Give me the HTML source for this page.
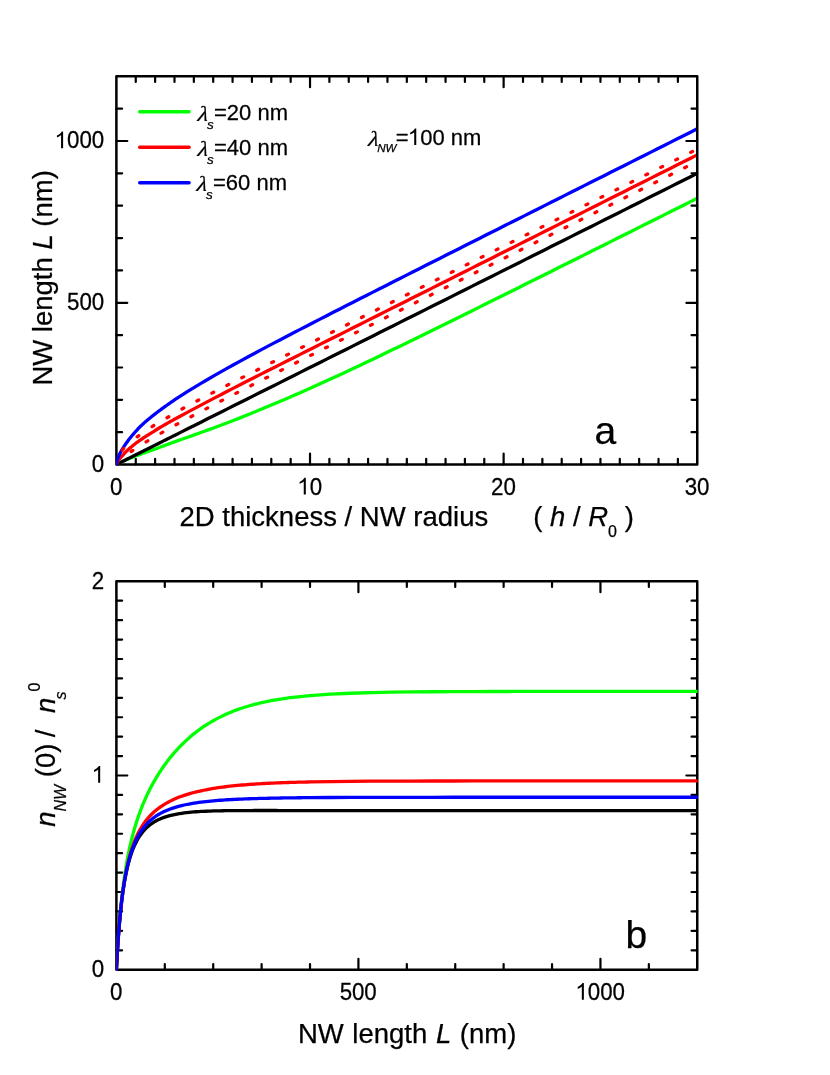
<!DOCTYPE html>
<html><head><meta charset="utf-8"><title>figure</title>
<style>
html,body{margin:0;padding:0;background:#fff;}
svg{display:block;}
text{font-family:"Liberation Sans",sans-serif;fill:#000;stroke:#000;stroke-width:0.25px;stroke-linejoin:round;}
svg{will-change:transform;}
.it{font-style:italic;}
.ser{font-family:"Liberation Serif",serif;font-style:italic;}
.t{font-size:22.3px;}
.l{font-size:27.5px;}
.g{font-size:22px;}
.ab{font-size:39px;}
.c{fill:none;stroke-width:3.3;stroke-linejoin:round;stroke-linecap:round;}
</style></head>
<body>

<svg width="830" height="1075" viewBox="0 0 830 1075">
<rect width="830" height="1075" fill="#fff"/>
<defs><clipPath id="ca"><rect x="116.4" y="74.3" width="579.6" height="391.55"/></clipPath><clipPath id="cb"><rect x="116.4" y="579.3" width="581.25" height="391.7"/></clipPath></defs>
<!-- panel a -->
<rect x="116.4" y="76.3" width="580.85" height="388.25" fill="none" stroke="#000" stroke-linejoin="round" stroke-width="2.5"/>
<path d="M135.76 464.55 v-5.7 M135.76 76.3 v5.7 M155.12 464.55 v-5.7 M155.12 76.3 v5.7 M174.49 464.55 v-5.7 M174.49 76.3 v5.7 M193.85 464.55 v-5.7 M193.85 76.3 v5.7 M213.21 464.55 v-5.7 M213.21 76.3 v5.7 M232.57 464.55 v-5.7 M232.57 76.3 v5.7 M251.93 464.55 v-5.7 M251.93 76.3 v5.7 M271.29 464.55 v-5.7 M271.29 76.3 v5.7 M290.66 464.55 v-5.7 M290.66 76.3 v5.7 M329.38 464.55 v-5.7 M329.38 76.3 v5.7 M348.74 464.55 v-5.7 M348.74 76.3 v5.7 M368.1 464.55 v-5.7 M368.1 76.3 v5.7 M387.46 464.55 v-5.7 M387.46 76.3 v5.7 M406.83 464.55 v-5.7 M406.83 76.3 v5.7 M426.19 464.55 v-5.7 M426.19 76.3 v5.7 M445.55 464.55 v-5.7 M445.55 76.3 v5.7 M464.91 464.55 v-5.7 M464.91 76.3 v5.7 M484.27 464.55 v-5.7 M484.27 76.3 v5.7 M523 464.55 v-5.7 M523 76.3 v5.7 M542.36 464.55 v-5.7 M542.36 76.3 v5.7 M561.72 464.55 v-5.7 M561.72 76.3 v5.7 M581.08 464.55 v-5.7 M581.08 76.3 v5.7 M600.44 464.55 v-5.7 M600.44 76.3 v5.7 M619.8 464.55 v-5.7 M619.8 76.3 v5.7 M639.16 464.55 v-5.7 M639.16 76.3 v5.7 M658.53 464.55 v-5.7 M658.53 76.3 v5.7 M677.89 464.55 v-5.7 M677.89 76.3 v5.7 M310.02 464.55 v-10.9 M310.02 76.3 v10.9 M503.63 464.55 v-10.9 M503.63 76.3 v10.9 M116.4 432.2 h5.7 M697.25 432.2 h-5.7 M116.4 399.84 h5.7 M697.25 399.84 h-5.7 M116.4 367.49 h5.7 M697.25 367.49 h-5.7 M116.4 335.13 h5.7 M697.25 335.13 h-5.7 M116.4 270.43 h5.7 M697.25 270.43 h-5.7 M116.4 238.07 h5.7 M697.25 238.07 h-5.7 M116.4 205.72 h5.7 M697.25 205.72 h-5.7 M116.4 173.36 h5.7 M697.25 173.36 h-5.7 M116.4 108.65 h5.7 M697.25 108.65 h-5.7 M116.4 302.78 h10.9 M697.25 302.78 h-10.9 M116.4 141.01 h10.9 M697.25 141.01 h-10.9" stroke="#000" stroke-width="2.2" fill="none" stroke-linecap="round"/>
<g clip-path="url(#ca)">
<path class="c" stroke="#00ff00" d="M116.4 464.55 L116.64 464.41 L116.88 464.27 L117.13 464.13 L117.37 463.99 L117.61 463.86 L117.85 463.72 L118.09 463.59 L118.34 463.46 L118.58 463.33 L118.82 463.21 L119.06 463.08 L119.3 462.96 L119.55 462.83 L119.79 462.71 L120.03 462.59 L120.27 462.47 L120.51 462.35 L120.76 462.24 L121 462.12 L121.24 462 L121.48 461.89 L121.72 461.77 L121.97 461.66 L122.21 461.55 L122.45 461.44 L122.69 461.33 L122.93 461.22 L123.18 461.11 L123.42 461 L123.66 460.89 L123.9 460.78 L124.14 460.68 L124.39 460.57 L124.63 460.46 L124.87 460.36 L125.11 460.25 L125.35 460.15 L125.6 460.05 L125.84 459.94 L126.08 459.84 L127.29 459.33 L128.5 458.84 L129.71 458.35 L130.92 457.87 L132.13 457.39 L133.34 456.93 L134.55 456.46 L135.76 456 L136.97 455.55 L138.18 455.1 L139.39 454.65 L140.6 454.21 L141.81 453.76 L143.02 453.32 L144.23 452.89 L145.44 452.45 L146.65 452.01 L147.86 451.58 L149.07 451.15 L150.28 450.72 L151.49 450.29 L152.7 449.86 L153.91 449.43 L155.12 449.01 L156.33 448.58 L157.54 448.14 L158.75 447.7 L159.96 447.26 L161.17 446.81 L162.38 446.37 L163.59 445.92 L164.8 445.46 L166.01 445.01 L167.22 444.56 L168.43 444.1 L169.64 443.65 L170.85 443.2 L172.06 442.75 L173.27 442.31 L174.49 441.86 L181.1 439.52 L187.72 437.23 L194.34 434.91 L200.95 432.55 L207.57 430.16 L214.19 427.73 L220.81 425.26 L227.42 422.74 L234.04 420.19 L240.66 417.59 L247.28 414.95 L253.89 412.28 L260.51 409.56 L267.13 406.81 L273.74 404.03 L280.36 401.23 L286.98 398.4 L293.6 395.55 L300.21 392.66 L306.83 389.75 L313.45 386.82 L320.07 383.85 L326.68 380.85 L333.3 377.83 L339.92 374.78 L346.53 371.7 L353.15 368.59 L359.77 365.46 L366.39 362.31 L373 359.16 L379.62 355.98 L386.24 352.8 L392.86 349.61 L399.47 346.4 L406.09 343.18 L412.71 339.96 L419.32 336.73 L425.94 333.49 L432.56 330.24 L439.18 326.99 L445.79 323.73 L452.41 320.47 L459.03 317.2 L465.65 313.93 L472.26 310.66 L478.88 307.38 L485.5 304.1 L492.11 300.81 L498.73 297.52 L505.35 294.23 L511.97 290.94 L518.58 287.65 L525.2 284.35 L531.82 281.05 L538.44 277.75 L545.05 274.45 L551.67 271.15 L558.29 267.85 L564.9 264.54 L571.52 261.24 L578.14 257.93 L584.76 254.63 L591.37 251.32 L597.99 248.01 L604.61 244.7 L611.23 241.39 L617.84 238.08 L624.46 234.77 L631.08 231.45 L637.69 228.14 L644.31 224.83 L650.93 221.52 L657.55 218.2 L664.16 214.89 L670.78 211.57 L677.4 208.26 L684.02 204.94 L690.63 201.63 L697.25 198.31"/>
<path class="c" stroke="#000" d="M116.4 464.55 L116.64 464.43 L116.88 464.31 L117.13 464.19 L117.37 464.06 L117.61 463.94 L117.85 463.82 L118.09 463.7 L118.34 463.58 L118.58 463.46 L118.82 463.34 L119.06 463.22 L119.3 463.09 L119.55 462.97 L119.79 462.85 L120.03 462.73 L120.27 462.61 L120.51 462.49 L120.76 462.37 L121 462.24 L121.24 462.12 L121.48 462 L121.72 461.88 L121.97 461.76 L122.21 461.64 L122.45 461.52 L122.69 461.4 L122.93 461.27 L123.18 461.15 L123.42 461.03 L123.66 460.91 L123.9 460.79 L124.14 460.67 L124.39 460.55 L124.63 460.42 L124.87 460.3 L125.11 460.18 L125.35 460.06 L125.6 459.94 L125.84 459.82 L126.08 459.7 L127.29 459.09 L128.5 458.48 L129.71 457.88 L130.92 457.27 L132.13 456.66 L133.34 456.06 L134.55 455.45 L135.76 454.84 L136.97 454.24 L138.18 453.63 L139.39 453.02 L140.6 452.42 L141.81 451.81 L143.02 451.2 L144.23 450.6 L145.44 449.99 L146.65 449.38 L147.86 448.78 L149.07 448.17 L150.28 447.56 L151.49 446.96 L152.7 446.35 L153.91 445.74 L155.12 445.14 L156.33 444.53 L157.54 443.92 L158.75 443.32 L159.96 442.71 L161.17 442.1 L162.38 441.5 L163.59 440.89 L164.8 440.28 L166.01 439.68 L167.22 439.07 L168.43 438.46 L169.64 437.86 L170.85 437.25 L172.06 436.64 L173.27 436.04 L174.49 435.43 L181.1 432.11 L187.72 428.8 L194.34 425.48 L200.95 422.16 L207.57 418.84 L214.19 415.53 L220.81 412.21 L227.42 408.89 L234.04 405.58 L240.66 402.26 L247.28 398.94 L253.89 395.62 L260.51 392.31 L267.13 388.99 L273.74 385.67 L280.36 382.35 L286.98 379.04 L293.6 375.72 L300.21 372.4 L306.83 369.08 L313.45 365.77 L320.07 362.45 L326.68 359.13 L333.3 355.82 L339.92 352.5 L346.53 349.18 L353.15 345.86 L359.77 342.55 L366.39 339.23 L373 335.91 L379.62 332.59 L386.24 329.28 L392.86 325.96 L399.47 322.64 L406.09 319.32 L412.71 316.01 L419.32 312.69 L425.94 309.37 L432.56 306.06 L439.18 302.74 L445.79 299.42 L452.41 296.1 L459.03 292.79 L465.65 289.47 L472.26 286.15 L478.88 282.83 L485.5 279.52 L492.11 276.2 L498.73 272.88 L505.35 269.56 L511.97 266.25 L518.58 262.93 L525.2 259.61 L531.82 256.3 L538.44 252.98 L545.05 249.66 L551.67 246.34 L558.29 243.03 L564.9 239.71 L571.52 236.39 L578.14 233.07 L584.76 229.76 L591.37 226.44 L597.99 223.12 L604.61 219.81 L611.23 216.49 L617.84 213.17 L624.46 209.85 L631.08 206.54 L637.69 203.22 L644.31 199.9 L650.93 196.58 L657.55 193.27 L664.16 189.95 L670.78 186.63 L677.4 183.31 L684.02 180 L690.63 176.68 L697.25 173.36"/>
<path class="c" stroke="#ff0000" d="M116.4 464.55 L116.64 463.91 L116.88 463.33 L117.13 462.8 L117.37 462.32 L117.61 461.86 L117.85 461.44 L118.09 461.03 L118.34 460.65 L118.58 460.28 L118.82 459.92 L119.06 459.58 L119.3 459.24 L119.55 458.92 L119.79 458.6 L120.03 458.29 L120.27 457.98 L120.51 457.68 L120.76 457.39 L121 457.11 L121.24 456.84 L121.48 456.57 L121.72 456.3 L121.97 456.04 L122.21 455.78 L122.45 455.53 L122.69 455.27 L122.93 455.02 L123.18 454.77 L123.42 454.51 L123.66 454.25 L123.9 454 L124.14 453.73 L124.39 453.47 L124.63 453.21 L124.87 452.95 L125.11 452.7 L125.35 452.45 L125.6 452.19 L125.84 451.95 L126.08 451.7 L127.29 450.49 L128.5 449.34 L129.71 448.24 L130.92 447.19 L132.13 446.17 L133.34 445.18 L134.55 444.23 L135.76 443.3 L136.97 442.41 L138.18 441.54 L139.39 440.69 L140.6 439.86 L141.81 439.05 L143.02 438.25 L144.23 437.46 L145.44 436.68 L146.65 435.91 L147.86 435.14 L149.07 434.38 L150.28 433.61 L151.49 432.83 L152.7 432.06 L153.91 431.28 L155.12 430.52 L156.33 429.75 L157.54 429 L158.75 428.25 L159.96 427.52 L161.17 426.81 L162.38 426.11 L163.59 425.41 L164.8 424.71 L166.01 424.03 L167.22 423.34 L168.43 422.66 L169.64 421.99 L170.85 421.31 L172.06 420.64 L173.27 419.98 L174.49 419.31 L181.1 415.71 L187.72 412.14 L194.34 408.6 L200.95 405.09 L207.57 401.6 L214.19 398.14 L220.81 394.7 L227.42 391.28 L234.04 387.86 L240.66 384.46 L247.28 381.08 L253.89 377.72 L260.51 374.38 L267.13 371.04 L273.74 367.7 L280.36 364.36 L286.98 361.03 L293.6 357.7 L300.21 354.38 L306.83 351.05 L313.45 347.72 L320.07 344.4 L326.68 341.07 L333.3 337.75 L339.92 334.43 L346.53 331.1 L353.15 327.78 L359.77 324.45 L366.39 321.13 L373 317.8 L379.62 314.47 L386.24 311.15 L392.86 307.82 L399.47 304.49 L406.09 301.17 L412.71 297.84 L419.32 294.51 L425.94 291.19 L432.56 287.86 L439.18 284.53 L445.79 281.2 L452.41 277.88 L459.03 274.55 L465.65 271.22 L472.26 267.9 L478.88 264.57 L485.5 261.24 L492.11 257.91 L498.73 254.59 L505.35 251.26 L511.97 247.93 L518.58 244.61 L525.2 241.28 L531.82 237.95 L538.44 234.63 L545.05 231.3 L551.67 227.98 L558.29 224.65 L564.9 221.33 L571.52 218 L578.14 214.68 L584.76 211.35 L591.37 208.03 L597.99 204.7 L604.61 201.38 L611.23 198.06 L617.84 194.73 L624.46 191.41 L631.08 188.09 L637.69 184.77 L644.31 181.44 L650.93 178.12 L657.55 174.8 L664.16 171.48 L670.78 168.16 L677.4 164.84 L684.02 161.52 L690.63 158.2 L697.25 154.88"/>
<path class="c" stroke="#0000ff" d="M116.4 464.55 L116.64 463.14 L116.88 461.98 L117.13 460.97 L117.37 460.08 L117.61 459.26 L117.85 458.51 L118.09 457.81 L118.34 457.15 L118.58 456.52 L118.82 455.93 L119.06 455.36 L119.3 454.81 L119.55 454.28 L119.79 453.77 L120.03 453.27 L120.27 452.79 L120.51 452.32 L120.76 451.86 L121 451.42 L121.24 450.99 L121.48 450.57 L121.72 450.16 L121.97 449.76 L122.21 449.36 L122.45 448.97 L122.69 448.59 L122.93 448.2 L123.18 447.82 L123.42 447.44 L123.66 447.06 L123.9 446.68 L124.14 446.3 L124.39 445.92 L124.63 445.54 L124.87 445.17 L125.11 444.8 L125.35 444.44 L125.6 444.08 L125.84 443.73 L126.08 443.37 L127.29 441.67 L128.5 440.04 L129.71 438.48 L130.92 436.97 L132.13 435.51 L133.34 434.09 L134.55 432.72 L135.76 431.38 L136.97 430.04 L138.18 428.7 L139.39 427.41 L140.6 426.23 L141.81 425.08 L143.02 423.97 L144.23 422.88 L145.44 421.81 L146.65 420.76 L147.86 419.74 L149.07 418.73 L150.28 417.74 L151.49 416.76 L152.7 415.79 L153.91 414.84 L155.12 413.89 L156.33 412.96 L157.54 412.03 L158.75 411.12 L159.96 410.22 L161.17 409.32 L162.38 408.44 L163.59 407.56 L164.8 406.69 L166.01 405.83 L167.22 404.97 L168.43 404.12 L169.64 403.28 L170.85 402.45 L172.06 401.62 L173.27 400.8 L174.49 399.99 L181.1 395.65 L187.72 391.45 L194.34 387.38 L200.95 383.4 L207.57 379.5 L214.19 375.67 L220.81 371.9 L227.42 368.17 L234.04 364.49 L240.66 360.85 L247.28 357.25 L253.89 353.69 L260.51 350.15 L267.13 346.64 L273.74 343.15 L280.36 339.67 L286.98 336.21 L293.6 332.77 L300.21 329.34 L306.83 325.92 L313.45 322.51 L320.07 319.11 L326.68 315.72 L333.3 312.33 L339.92 308.95 L346.53 305.58 L353.15 302.21 L359.77 298.84 L366.39 295.48 L373 292.12 L379.62 288.76 L386.24 285.41 L392.86 282.06 L399.47 278.71 L406.09 275.37 L412.71 272.03 L419.32 268.68 L425.94 265.34 L432.56 262.01 L439.18 258.67 L445.79 255.33 L452.41 252 L459.03 248.66 L465.65 245.33 L472.26 242 L478.88 238.67 L485.5 235.33 L492.11 232 L498.73 228.67 L505.35 225.34 L511.97 222.01 L518.58 218.68 L525.2 215.36 L531.82 212.03 L538.44 208.7 L545.05 205.37 L551.67 202.04 L558.29 198.71 L564.9 195.39 L571.52 192.06 L578.14 188.73 L584.76 185.4 L591.37 182.08 L597.99 178.75 L604.61 175.42 L611.23 172.09 L617.84 168.77 L624.46 165.44 L631.08 162.11 L637.69 158.78 L644.31 155.46 L650.93 152.13 L657.55 148.8 L664.16 145.47 L670.78 142.15 L677.4 138.82 L684.02 135.49 L690.63 132.16 L697.25 128.83"/>
<path d="M122.39 450.14 L123.61 448.55 M137.17 436.88 L138.76 435.68 M152.08 426.58 L153.77 425.52 M167.02 417.76 L168.76 416.76 M181.97 408.98 L183.73 408.03 M196.93 400.96 L198.7 400.02 M211.89 393.12 L213.67 392.2 M226.85 385.41 L228.63 384.49 M241.81 377.76 L243.6 376.85 M256.77 370.16 L258.56 369.25 M271.74 362.59 L273.52 361.69 M286.7 355.04 L288.49 354.14 M301.66 347.5 L303.45 346.6 M316.63 339.97 L318.41 339.08 M331.59 332.45 L333.38 331.56 M346.55 324.94 L348.34 324.04 M361.51 317.43 L363.3 316.53 M376.48 309.92 L378.26 309.02 M391.44 302.41 L393.23 301.51 M406.4 294.9 L408.19 294.01 M421.37 287.4 L423.15 286.5 M436.33 279.89 L438.12 279 M451.29 272.39 L453.08 271.49 M466.26 264.89 L468.04 263.99 M481.22 257.38 L483.01 256.49 M496.18 249.88 L497.97 248.99 M511.14 242.38 L512.93 241.48 M526.11 234.88 L527.89 233.98 M541.07 227.38 L542.86 226.48 M556.03 219.87 L557.82 218.98 M571 212.37 L572.78 211.48 M585.96 204.87 L587.75 203.98 M600.92 197.37 L602.71 196.47 M615.89 189.87 L617.67 188.97 M630.85 182.37 L632.64 181.47 M645.81 174.87 L647.6 173.97 M660.77 167.36 L662.56 166.47 M675.74 159.86 L677.52 158.97 M690.7 152.36 L692.49 151.47" stroke="#ff0000" stroke-width="3.3" stroke-linecap="round" fill="none"/>
<path d="M131.16 451.59 L132.8 450.45 M146.09 441.89 L147.8 440.85 M161.04 433.12 L162.78 432.13 M175.99 424.8 L177.75 423.84 M190.95 416.74 L192.72 415.8 M205.91 408.85 L207.68 407.93 M220.87 401.07 L222.65 400.15 M235.83 393.36 L237.61 392.45 M250.79 385.71 L252.57 384.8 M265.76 378.09 L267.54 377.18 M280.72 370.5 L282.5 369.6 M295.68 362.93 L297.47 362.03 M310.64 355.38 L312.43 354.48 M325.61 347.83 L327.39 346.94 M340.57 340.3 L342.36 339.4 M355.53 332.78 L357.32 331.88 M370.49 325.26 L372.28 324.36 M385.46 317.74 L387.24 316.84 M400.42 310.23 L402.21 309.33 M415.38 302.72 L417.17 301.82 M430.35 295.21 L432.13 294.31 M445.31 287.7 L447.1 286.8 M460.27 280.19 L462.06 279.3 M475.24 272.69 L477.02 271.79 M490.2 265.18 L491.99 264.29 M505.16 257.68 L506.95 256.78 M520.12 250.18 L521.91 249.28 M535.09 242.68 L536.87 241.78 M550.05 235.17 L551.84 234.28 M565.01 227.67 L566.8 226.78 M579.98 220.17 L581.76 219.27 M594.94 212.67 L596.73 211.77 M609.9 205.17 L611.69 204.27 M624.87 197.66 L626.65 196.77 M639.83 190.16 L641.62 189.27 M654.79 182.66 L656.58 181.77 M669.75 175.16 L671.54 174.26 M684.72 167.66 L686.5 166.76" stroke="#ff0000" stroke-width="3.3" stroke-linecap="round" fill="none"/>
</g>
<text class="t" transform="translate(109.97 494.55) scale(1 1.05)"><tspan x="0">0</tspan></text>
<path d="M763 0H583V1147Q518 1085 412.5 1023T223 930V1104Q374 1175 487 1276T647 1472H763Z" transform="translate(297.09 494.55) scale(0.01143 -0.01143)"/>
<text class="t" transform="translate(297.41 494.55) scale(1 1.05)"><tspan x="12.36">0</tspan></text>
<text class="t" transform="translate(491.02 494.55) scale(1 1.05)"><tspan x="0">2</tspan><tspan x="12.36">0</tspan></text>
<text class="t" transform="translate(684.64 494.55) scale(1 1.05)"><tspan x="0">3</tspan><tspan x="12.36">0</tspan></text>
<text class="t" transform="translate(91.79 471.75) scale(1 1.05)"><tspan x="0">0</tspan></text>
<text class="t" transform="translate(67.07 309.98) scale(1 1.05)"><tspan x="0">5</tspan><tspan x="12.36">0</tspan><tspan x="24.72">0</tspan></text>
<path d="M763 0H583V1147Q518 1085 412.5 1023T223 930V1104Q374 1175 487 1276T647 1472H763Z" transform="translate(54.39 148.21) scale(0.01143 -0.01143)"/>
<text class="t" transform="translate(54.71 148.21) scale(1 1.05)"><tspan x="12.36">0</tspan><tspan x="24.72">0</tspan><tspan x="37.08">0</tspan></text>
<path d="M139.7 111.7 H189.1" stroke="#00ff00" stroke-width="3.4" stroke-linecap="round"/>
<text class="ser" font-size="21.5" transform="translate(197.2 120.5) skewX(-8) scale(1.12 1)">λ</text>
<text class="g it" transform="translate(207.1 128.6)" style="font-size:13.5px">s</text>
<text class="g" transform="translate(214 119.75) scale(1 1.04)">=20 nm</text>
<path d="M139.7 147.25 H189.1" stroke="#ff0000" stroke-width="3.4" stroke-linecap="round"/>
<text class="ser" font-size="21.5" transform="translate(197.2 156.05) skewX(-8) scale(1.12 1)">λ</text>
<text class="g it" transform="translate(207.1 164.15)" style="font-size:13.5px">s</text>
<text class="g" transform="translate(214 155.3) scale(1 1.04)">=40 nm</text>
<path d="M139.7 182.8 H189.1" stroke="#0000ff" stroke-width="3.4" stroke-linecap="round"/>
<text class="ser" font-size="21.5" transform="translate(196.2 191) skewX(-8) scale(1.12 1)">λ</text>
<text class="g it" transform="translate(206.1 199.1)" style="font-size:13.5px">s</text>
<text class="g" transform="translate(213 190.25) scale(1 1.04)">=60 nm</text>
<text class="ser" font-size="21.5" transform="translate(367.7 145.8) skewX(-8) scale(1.12 1)">λ</text>
<text class="g it" transform="translate(377.2 152)" style="font-size:11.6px">NW</text>
<text class="g" transform="translate(395.7 145.1) scale(1 1.04)">=</text>
<path d="M763 0H583V1147Q518 1085 412.5 1023T223 930V1104Q374 1175 487 1276T647 1472H763Z" transform="translate(407.65 145.1) scale(0.01128 -0.01128)"/>
<text class="g" transform="translate(420.18 145.1) scale(1 1.04)">00 nm</text>
<text class="ab" transform="translate(594.5 443.5)">a</text>
<text class="l" transform="translate(179.5 525.5)">2D thickness / NW radius</text>
<text class="l" transform="translate(533.2 525.8)">( <tspan class="it">h</tspan> / <tspan class="it">R</tspan><tspan font-size="16" dy="11.6">0</tspan><tspan dy="-11.6"> )</tspan></text>
<text class="l" transform="translate(51.7 385.6) rotate(-90)">NW length <tspan class="it">L</tspan> (nm)</text>
<!-- panel b -->
<rect x="116.4" y="581.3" width="580.85" height="388.4" fill="none" stroke="#000" stroke-linejoin="round" stroke-width="2.5"/>
<path d="M164.8 969.7 v-5.7 M164.8 581.3 v5.7 M213.21 969.7 v-5.7 M213.21 581.3 v5.7 M261.61 969.7 v-5.7 M261.61 581.3 v5.7 M310.02 969.7 v-5.7 M310.02 581.3 v5.7 M406.83 969.7 v-5.7 M406.83 581.3 v5.7 M455.23 969.7 v-5.7 M455.23 581.3 v5.7 M503.63 969.7 v-5.7 M503.63 581.3 v5.7 M552.04 969.7 v-5.7 M552.04 581.3 v5.7 M648.85 969.7 v-5.7 M648.85 581.3 v5.7 M358.42 969.7 v-10.9 M358.42 581.3 v10.9 M600.44 969.7 v-10.9 M600.44 581.3 v10.9 M116.4 950.28 h5.7 M697.25 950.28 h-5.7 M116.4 930.86 h5.7 M697.25 930.86 h-5.7 M116.4 911.44 h5.7 M697.25 911.44 h-5.7 M116.4 892.02 h5.7 M697.25 892.02 h-5.7 M116.4 872.6 h5.7 M697.25 872.6 h-5.7 M116.4 853.18 h5.7 M697.25 853.18 h-5.7 M116.4 833.76 h5.7 M697.25 833.76 h-5.7 M116.4 814.34 h5.7 M697.25 814.34 h-5.7 M116.4 794.92 h5.7 M697.25 794.92 h-5.7 M116.4 756.08 h5.7 M697.25 756.08 h-5.7 M116.4 736.66 h5.7 M697.25 736.66 h-5.7 M116.4 717.24 h5.7 M697.25 717.24 h-5.7 M116.4 697.82 h5.7 M697.25 697.82 h-5.7 M116.4 678.4 h5.7 M697.25 678.4 h-5.7 M116.4 658.98 h5.7 M697.25 658.98 h-5.7 M116.4 639.56 h5.7 M697.25 639.56 h-5.7 M116.4 620.14 h5.7 M697.25 620.14 h-5.7 M116.4 600.72 h5.7 M697.25 600.72 h-5.7 M116.4 775.5 h10.9 M697.25 775.5 h-10.9" stroke="#000" stroke-width="2.2" fill="none" stroke-linecap="round"/>
<g clip-path="url(#cb)">
<path class="c" stroke="#00ff00" d="M116.4 969.7 L116.64 964.95 L116.88 960.42 L117.13 956.08 L117.37 951.92 L117.61 947.93 L117.85 944.1 L118.09 940.42 L118.34 936.88 L118.58 933.47 L118.82 930.19 L119.06 927.02 L119.3 923.96 L119.55 921 L119.79 918.15 L120.03 915.38 L120.27 912.7 L120.51 910.11 L120.76 907.6 L121 905.16 L121.24 902.79 L121.48 900.49 L121.72 898.25 L121.97 896.08 L122.21 893.96 L122.45 891.9 L122.69 889.9 L122.93 887.94 L123.18 886.03 L123.42 884.18 L123.66 882.36 L123.9 880.59 L124.14 878.86 L124.39 877.17 L124.63 875.52 L124.87 873.9 L125.11 872.32 L125.35 870.77 L125.6 869.26 L125.84 867.78 L126.08 866.32 L126.86 861.86 L127.63 857.67 L128.4 853.71 L129.18 849.97 L129.95 846.41 L130.73 843.04 L131.5 839.82 L132.28 836.74 L133.05 833.8 L133.83 830.98 L134.6 828.27 L135.37 825.67 L136.15 823.16 L136.92 820.74 L137.7 818.4 L138.47 816.14 L139.25 813.95 L140.02 811.82 L140.8 809.76 L141.57 807.76 L142.34 805.82 L143.12 803.92 L143.89 802.08 L144.67 800.29 L145.44 798.53 L146.22 796.82 L146.99 795.15 L147.77 793.52 L148.54 791.93 L149.31 790.37 L150.09 788.84 L150.86 787.35 L151.64 785.89 L152.41 784.45 L153.19 783.04 L153.96 781.67 L154.74 780.31 L155.51 778.98 L156.29 777.68 L157.06 776.4 L157.83 775.14 L158.61 773.91 L159.38 772.69 L160.16 771.5 L160.93 770.33 L161.71 769.17 L162.48 768.04 L163.26 766.92 L164.03 765.82 L164.8 764.74 L167.22 761.47 L169.64 758.36 L172.06 755.38 L174.49 752.55 L176.91 749.83 L179.33 747.24 L181.75 744.76 L184.17 742.39 L186.59 740.12 L189.01 737.95 L191.43 735.87 L193.85 733.88 L196.27 731.97 L198.69 730.14 L201.11 728.4 L203.53 726.73 L205.95 725.12 L208.37 723.59 L210.79 722.13 L213.21 720.72 L215.63 719.38 L218.05 718.1 L220.47 716.87 L222.89 715.7 L225.31 714.57 L227.73 713.5 L230.15 712.48 L232.57 711.5 L234.99 710.56 L237.41 709.67 L239.83 708.81 L242.25 708 L244.67 707.22 L247.09 706.48 L249.51 705.77 L251.93 705.09 L254.35 704.44 L256.77 703.83 L259.19 703.24 L261.61 702.68 L264.03 702.14 L266.45 701.63 L268.87 701.15 L271.29 700.68 L273.71 700.24 L276.13 699.82 L278.55 699.42 L280.97 699.03 L283.39 698.67 L285.81 698.32 L288.23 697.99 L290.65 697.67 L293.08 697.37 L295.5 697.09 L297.92 696.81 L300.34 696.55 L302.76 696.31 L305.18 696.07 L307.6 695.85 L310.02 695.63 L330.4 694.19 L350.78 693.24 L371.16 692.61 L391.54 692.2 L411.92 691.93 L432.3 691.75 L452.68 691.64 L473.06 691.56 L493.44 691.51 L513.82 691.47 L534.2 691.45 L554.59 691.44 L574.97 691.43 L595.35 691.42 L615.73 691.42 L636.11 691.42 L656.49 691.41 L676.87 691.41 L697.25 691.41"/>
<path class="c" stroke="#000" d="M116.4 969.7 L116.64 964.96 L116.88 960.45 L117.13 956.15 L117.37 952.05 L117.61 948.13 L117.85 944.38 L118.09 940.8 L118.34 937.36 L118.58 934.06 L118.82 930.9 L119.06 927.87 L119.3 924.95 L119.55 922.14 L119.79 919.44 L120.03 916.84 L120.27 914.34 L120.51 911.92 L120.76 909.59 L121 907.34 L121.24 905.17 L121.48 903.07 L121.72 901.03 L121.97 899.07 L122.21 897.17 L122.45 895.33 L122.69 893.54 L122.93 891.81 L123.18 890.14 L123.42 888.51 L123.66 886.93 L123.9 885.4 L124.14 883.91 L124.39 882.47 L124.63 881.06 L124.87 879.7 L125.11 878.37 L125.35 877.08 L125.6 875.82 L125.84 874.6 L126.08 873.41 L126.86 869.8 L127.63 866.47 L128.4 863.39 L129.18 860.54 L129.95 857.9 L130.73 855.44 L131.5 853.14 L132.28 851 L133.05 848.99 L133.83 847.11 L134.6 845.35 L135.37 843.69 L136.15 842.14 L136.92 840.67 L137.7 839.28 L138.47 837.97 L139.25 836.74 L140.02 835.57 L140.8 834.46 L141.57 833.41 L142.34 832.41 L143.12 831.47 L143.89 830.57 L144.67 829.72 L145.44 828.91 L146.22 828.13 L146.99 827.4 L147.77 826.69 L148.54 826.03 L149.31 825.39 L150.09 824.78 L150.86 824.2 L151.64 823.64 L152.41 823.11 L153.19 822.6 L153.96 822.12 L154.74 821.65 L155.51 821.21 L156.29 820.78 L157.06 820.37 L157.83 819.98 L158.61 819.61 L159.38 819.25 L160.16 818.9 L160.93 818.57 L161.71 818.26 L162.48 817.95 L163.26 817.66 L164.03 817.38 L164.8 817.11 L167.22 816.34 L169.64 815.66 L172.06 815.06 L174.49 814.52 L176.91 814.05 L179.33 813.63 L181.75 813.26 L184.17 812.93 L186.59 812.64 L189.01 812.38 L191.43 812.15 L193.85 811.95 L196.27 811.77 L198.69 811.61 L201.11 811.47 L203.53 811.34 L205.95 811.23 L208.37 811.14 L210.79 811.05 L213.21 810.97 L215.63 810.91 L218.05 810.85 L220.47 810.8 L222.89 810.75 L225.31 810.71 L227.73 810.68 L230.15 810.65 L232.57 810.63 L234.99 810.61 L237.41 810.59 L239.83 810.57 L242.25 810.56 L244.67 810.55 L247.09 810.54 L249.51 810.53 L251.93 810.53 L254.35 810.52 L256.77 810.52 L259.19 810.52 L261.61 810.52 L264.03 810.52 L266.45 810.52 L268.87 810.52 L271.29 810.52 L273.71 810.52 L276.13 810.52 L278.55 810.53 L280.97 810.53 L283.39 810.53 L285.81 810.54 L288.23 810.54 L290.65 810.54 L293.08 810.55 L295.5 810.55 L297.92 810.55 L300.34 810.55 L302.76 810.56 L305.18 810.56 L307.6 810.56 L310.02 810.57 L330.4 810.59 L350.78 810.61 L371.16 810.62 L391.54 810.63 L411.92 810.64 L432.3 810.64 L452.68 810.64 L473.06 810.65 L493.44 810.65 L513.82 810.65 L534.2 810.65 L554.59 810.65 L574.97 810.65 L595.35 810.65 L615.73 810.65 L636.11 810.65 L656.49 810.65 L676.87 810.65 L697.25 810.65"/>
<path class="c" stroke="#ff0000" d="M116.4 969.7 L116.64 964.96 L116.88 960.44 L117.13 956.14 L117.37 952.02 L117.61 948.08 L117.85 944.31 L118.09 940.7 L118.34 937.24 L118.58 933.92 L118.82 930.72 L119.06 927.66 L119.3 924.7 L119.55 921.86 L119.79 919.12 L120.03 916.48 L120.27 913.93 L120.51 911.47 L120.76 909.09 L121 906.8 L121.24 904.57 L121.48 902.42 L121.72 900.34 L121.97 898.32 L122.21 896.37 L122.45 894.47 L122.69 892.63 L122.93 890.85 L123.18 889.11 L123.42 887.43 L123.66 885.79 L123.9 884.2 L124.14 882.65 L124.39 881.15 L124.63 879.68 L124.87 878.25 L125.11 876.86 L125.35 875.51 L125.6 874.19 L125.84 872.9 L126.08 871.64 L126.86 867.82 L127.63 864.28 L128.4 860.98 L129.18 857.91 L129.95 855.04 L130.73 852.35 L131.5 849.82 L132.28 847.45 L133.05 845.21 L133.83 843.09 L134.6 841.1 L135.37 839.2 L136.15 837.41 L136.92 835.7 L137.7 834.08 L138.47 832.53 L139.25 831.06 L140.02 829.65 L140.8 828.31 L141.57 827.02 L142.34 825.79 L143.12 824.61 L143.89 823.47 L144.67 822.38 L145.44 821.34 L146.22 820.33 L146.99 819.36 L147.77 818.43 L148.54 817.53 L149.31 816.66 L150.09 815.82 L150.86 815.01 L151.64 814.23 L152.41 813.48 L153.19 812.75 L153.96 812.04 L154.74 811.35 L155.51 810.69 L156.29 810.04 L157.06 809.42 L157.83 808.81 L158.61 808.22 L159.38 807.65 L160.16 807.09 L160.93 806.55 L161.71 806.03 L162.48 805.52 L163.26 805.02 L164.03 804.54 L164.8 804.06 L167.22 802.67 L169.64 801.38 L172.06 800.19 L174.49 799.08 L176.91 798.05 L179.33 797.09 L181.75 796.19 L184.17 795.35 L186.59 794.57 L189.01 793.83 L191.43 793.14 L193.85 792.49 L196.27 791.88 L198.69 791.31 L201.11 790.77 L203.53 790.26 L205.95 789.78 L208.37 789.32 L210.79 788.89 L213.21 788.48 L215.63 788.1 L218.05 787.74 L220.47 787.39 L222.89 787.07 L225.31 786.76 L227.73 786.47 L230.15 786.19 L232.57 785.93 L234.99 785.68 L237.41 785.44 L239.83 785.22 L242.25 785 L244.67 784.8 L247.09 784.61 L249.51 784.43 L251.93 784.25 L254.35 784.09 L256.77 783.93 L259.19 783.79 L261.61 783.65 L264.03 783.51 L266.45 783.39 L268.87 783.27 L271.29 783.15 L273.71 783.04 L276.13 782.94 L278.55 782.84 L280.97 782.75 L283.39 782.66 L285.81 782.57 L288.23 782.49 L290.65 782.42 L293.08 782.34 L295.5 782.28 L297.92 782.21 L300.34 782.15 L302.76 782.09 L305.18 782.03 L307.6 781.98 L310.02 781.93 L330.4 781.59 L350.78 781.36 L371.16 781.22 L391.54 781.12 L411.92 781.06 L432.3 781.02 L452.68 780.99 L473.06 780.97 L493.44 780.96 L513.82 780.95 L534.2 780.95 L554.59 780.94 L574.97 780.94 L595.35 780.94 L615.73 780.94 L636.11 780.94 L656.49 780.94 L676.87 780.94 L697.25 780.94"/>
<path class="c" stroke="#0000ff" d="M116.4 969.7 L116.64 964.96 L116.88 960.45 L117.13 956.15 L117.37 952.04 L117.61 948.11 L117.85 944.35 L118.09 940.75 L118.34 937.31 L118.58 934 L118.82 930.82 L119.06 927.77 L119.3 924.84 L119.55 922.02 L119.79 919.3 L120.03 916.68 L120.27 914.15 L120.51 911.72 L120.76 909.37 L121 907.09 L121.24 904.9 L121.48 902.78 L121.72 900.72 L121.97 898.73 L122.21 896.81 L122.45 894.94 L122.69 893.13 L122.93 891.38 L123.18 889.68 L123.42 888.02 L123.66 886.42 L123.9 884.86 L124.14 883.35 L124.39 881.87 L124.63 880.44 L124.87 879.05 L125.11 877.69 L125.35 876.37 L125.6 875.08 L125.84 873.83 L126.08 872.61 L126.86 868.91 L127.63 865.48 L128.4 862.31 L129.18 859.36 L129.95 856.61 L130.73 854.04 L131.5 851.64 L132.28 849.4 L133.05 847.29 L133.83 845.3 L134.6 843.43 L135.37 841.67 L136.15 840 L136.92 838.43 L137.7 836.93 L138.47 835.52 L139.25 834.18 L140.02 832.9 L140.8 831.68 L141.57 830.53 L142.34 829.43 L143.12 828.37 L143.89 827.37 L144.67 826.41 L145.44 825.49 L146.22 824.61 L146.99 823.77 L147.77 822.97 L148.54 822.19 L149.31 821.45 L150.09 820.74 L150.86 820.06 L151.64 819.4 L152.41 818.77 L153.19 818.16 L153.96 817.57 L154.74 817.01 L155.51 816.46 L156.29 815.94 L157.06 815.43 L157.83 814.94 L158.61 814.47 L159.38 814.02 L160.16 813.58 L160.93 813.15 L161.71 812.74 L162.48 812.34 L163.26 811.96 L164.03 811.59 L164.8 811.23 L167.22 810.17 L169.64 809.22 L172.06 808.35 L174.49 807.56 L176.91 806.83 L179.33 806.17 L181.75 805.56 L184.17 805.01 L186.59 804.49 L189.01 804.02 L191.43 803.58 L193.85 803.18 L196.27 802.8 L198.69 802.45 L201.11 802.13 L203.53 801.83 L205.95 801.56 L208.37 801.3 L210.79 801.06 L213.21 800.83 L215.63 800.62 L218.05 800.43 L220.47 800.24 L222.89 800.07 L225.31 799.91 L227.73 799.76 L230.15 799.62 L232.57 799.49 L234.99 799.36 L237.41 799.25 L239.83 799.14 L242.25 799.03 L244.67 798.94 L247.09 798.85 L249.51 798.76 L251.93 798.68 L254.35 798.6 L256.77 798.53 L259.19 798.46 L261.61 798.4 L264.03 798.34 L266.45 798.28 L268.87 798.23 L271.29 798.18 L273.71 798.13 L276.13 798.08 L278.55 798.04 L280.97 798 L283.39 797.96 L285.81 797.93 L288.23 797.89 L290.65 797.86 L293.08 797.83 L295.5 797.8 L297.92 797.77 L300.34 797.74 L302.76 797.72 L305.18 797.7 L307.6 797.67 L310.02 797.65 L330.4 797.51 L350.78 797.42 L371.16 797.36 L391.54 797.32 L411.92 797.3 L432.3 797.28 L452.68 797.27 L473.06 797.26 L493.44 797.26 L513.82 797.26 L534.2 797.25 L554.59 797.25 L574.97 797.25 L595.35 797.25 L615.73 797.25 L636.11 797.25 L656.49 797.25 L676.87 797.25 L697.25 797.25"/>
</g>
<text class="t" transform="translate(109.97 999.7) scale(1 1.05)"><tspan x="0">0</tspan></text>
<text class="t" transform="translate(339.63 999.7) scale(1 1.05)"><tspan x="0">5</tspan><tspan x="12.36">0</tspan><tspan x="24.72">0</tspan></text>
<path d="M763 0H583V1147Q518 1085 412.5 1023T223 930V1104Q374 1175 487 1276T647 1472H763Z" transform="translate(575.15 999.7) scale(0.01143 -0.01143)"/>
<text class="t" transform="translate(575.47 999.7) scale(1 1.05)"><tspan x="12.36">0</tspan><tspan x="24.72">0</tspan><tspan x="37.08">0</tspan></text>
<text class="t" transform="translate(91.79 976.9) scale(1 1.05)"><tspan x="0">0</tspan></text>
<path d="M763 0H583V1147Q518 1085 412.5 1023T223 930V1104Q374 1175 487 1276T647 1472H763Z" transform="translate(91.47 782.7) scale(0.01143 -0.01143)"/>
<text class="t" transform="translate(91.79 588.5) scale(1 1.05)"><tspan x="0">2</tspan></text>
<text class="ab" transform="translate(625.5 947.9)">b</text>
<text class="l" transform="translate(297.9 1042.8)" word-spacing="1">NW length <tspan class="it">L</tspan> (nm)</text>
<text class="l" transform="translate(54.6 826.8) rotate(-90)"><tspan class="it">n</tspan><tspan class="it" font-size="16" dy="11.2">NW</tspan><tspan dy="-11.2"> (0) </tspan><tspan dx="-1.3">/</tspan><tspan dx="1.3">&#160;&#160;</tspan><tspan class="it">n</tspan><tspan class="it" font-size="16" dy="11.6" dx="-1.7">s</tspan><tspan font-size="16" dy="-26.1">0</tspan></text>
</svg>
</body></html>
